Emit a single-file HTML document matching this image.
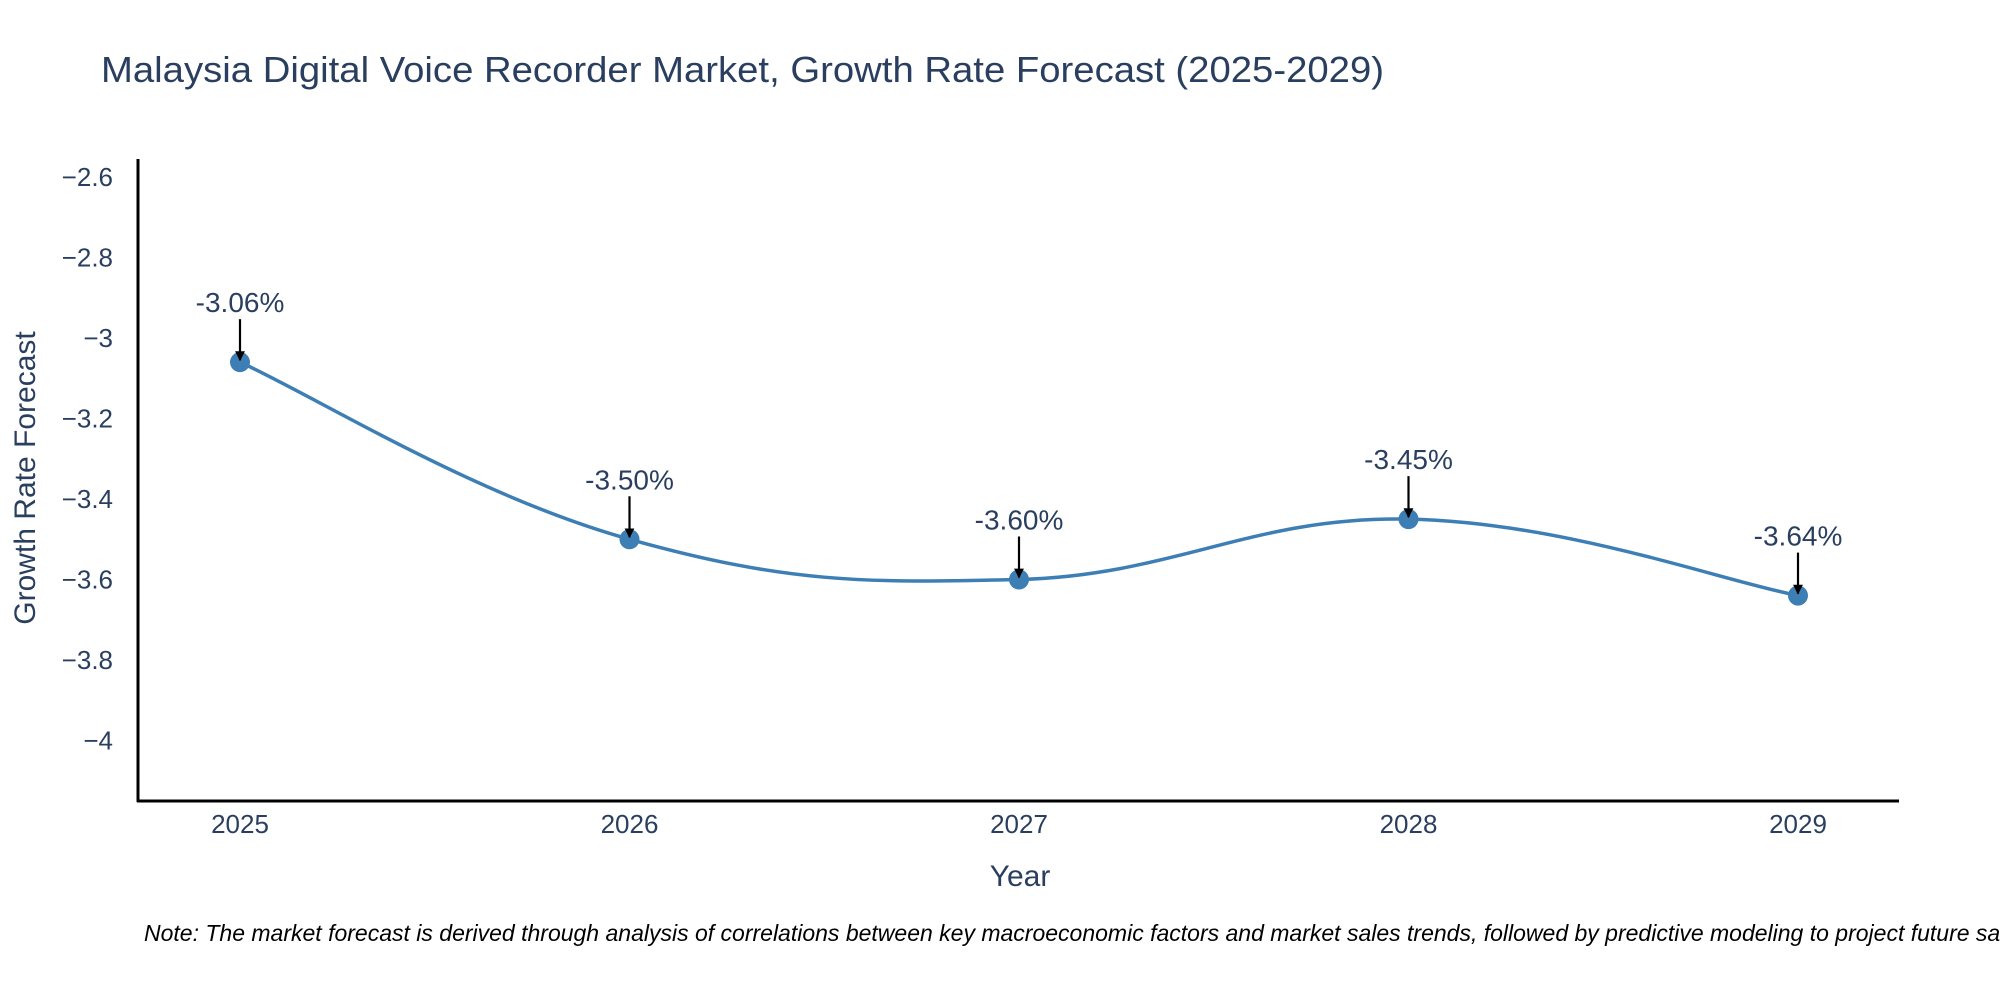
<!DOCTYPE html>
<html><head><meta charset="utf-8"><style>
html,body{margin:0;padding:0;background:#fff;}
svg{display:block;font-family:"Liberation Sans",sans-serif;}
</style></head><body>
<svg id="chart" width="2000" height="1000" viewBox="0 0 2000 1000">
<defs><marker id="arr" viewBox="0 0 10 10" refX="9" refY="5" markerWidth="4.5" markerHeight="4.5" orient="auto"><path d="M0,0 L10,5 L0,10 z" fill="#000"/></marker></defs>
<text x="101" y="82" font-size="36" fill="#2a3f5f" textLength="1283" lengthAdjust="spacingAndGlyphs">Malaysia Digital Voice Recorder Market, Growth Rate Forecast (2025-2029)</text>
<g id="yticks"></g><g id="xticks"></g>
<line x1="138" y1="159" x2="138" y2="802" stroke="#000" stroke-width="3"/>
<line x1="137" y1="801" x2="1899" y2="801" stroke="#000" stroke-width="3"/>
<text transform="translate(35,478) rotate(-90)" text-anchor="middle" font-size="30" fill="#2a3f5f">Growth Rate Forecast</text>
<text x="1020" y="886" text-anchor="middle" font-size="30" fill="#2a3f5f">Year</text>
<text x="144" y="941" font-size="23" font-style="italic" fill="#000">Note: The market forecast is derived through analysis of correlations between key macroeconomic factors and market sales trends, followed by predictive modeling to project future sales.</text>
<g id="plot"></g>
</svg>
<script>
const years = [2025, 2026, 2027, 2028, 2029];
const values = [-3.06, -3.50, -3.60, -3.45, -3.64];
const labels = ["-3.06%", "-3.50%", "-3.60%", "-3.45%", "-3.64%"];
const yTicks = [-2.6, -2.8, -3, -3.2, -3.4, -3.6, -3.8, -4];
const yTickLabels = ["\u22122.6", "\u22122.8", "\u22123", "\u22123.2", "\u22123.4", "\u22123.6", "\u22123.8", "\u22124"];

const NS = "http://www.w3.org/2000/svg";
function xs(y){ return 240 + (y - 2025) * 389.5; }
function ys(v){ return 177 + (-2.6 - v) / 0.2 * 80.5; }
function mk(tag, attrs, parent){ const e = document.createElementNS(NS, tag); for (const k in attrs) e.setAttribute(k, attrs[k]); parent.appendChild(e); return e; }

const yg = document.getElementById('yticks');
yTicks.forEach((v, i) => {
  const t = mk('text', {x:113, y:ys(v)+9, 'text-anchor':'end', 'font-size':26, fill:'#2a3f5f'}, yg);
  
  
  t.textContent = yTickLabels[i];
});
const xg = document.getElementById('xticks');
years.forEach(y => {
  const t = mk('text', {x:xs(y), y:833, 'text-anchor':'middle', 'font-size':26, fill:'#2a3f5f'}, xg);
  
  
  t.textContent = String(y);
});

const plot = document.getElementById('plot');
const pts = years.map((y, i) => [xs(y), ys(values[i])]);
let d = 'M' + pts[0][0] + ',' + pts[0][1];
for (let i = 0; i < pts.length - 1; i++) {
  const p0 = pts[Math.max(0, i-1)], p1 = pts[i], p2 = pts[i+1], p3 = pts[Math.min(pts.length-1, i+2)];
  const k = 1/5;
  const c1 = [p1[0] + (p2[0]-p0[0])*k, p1[1] + (p2[1]-p0[1])*k];
  const c2 = [p2[0] - (p3[0]-p1[0])*k, p2[1] - (p3[1]-p1[1])*k];
  d += ' C' + c1 + ' ' + c2 + ' ' + p2;
}
const line = mk('path', {d:d, fill:'none', stroke:'#3d7fb5', 'stroke-width':3.5}, plot);



pts.forEach((p, i) => {
  const c = mk('circle', {cx:p[0], cy:p[1], r:10, fill:'#3d7fb5'}, plot);
  
  
  const a = mk('line', {x1:p[0], y1:p[1]-43, x2:p[0], y2:p[1]-2, stroke:'#000', 'stroke-width':2.2, 'marker-end':'url(#arr)'}, plot);
  
  
  const t = mk('text', {x:p[0], y:p[1]-50, 'text-anchor':'middle', 'font-size':28, fill:'#2a3f5f'}, plot);
  
  
  t.textContent = labels[i];
});
</script>
</body></html>
